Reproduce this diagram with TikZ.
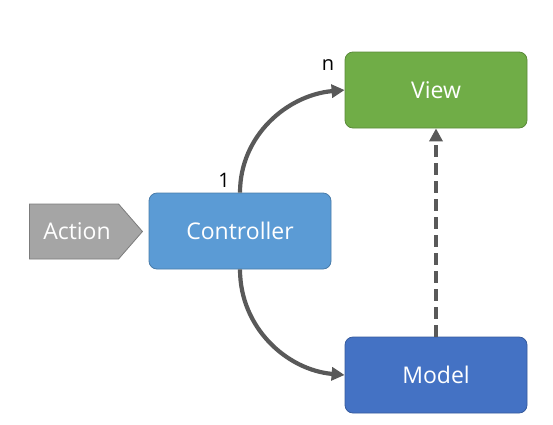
\documentclass[tikz,border=0pt]{standalone}
\usepackage{fontspec}
\setmainfont{Open Sans}
\usetikzlibrary{arrows.meta,shapes.symbols}

\definecolor{ctrlblue}{HTML}{5B9BD5}
\definecolor{viewgreen}{HTML}{70AD47}
\definecolor{modelblue}{HTML}{4472C4}
\definecolor{actgray}{HTML}{A5A5A5}
\definecolor{linkgray}{HTML}{595959}

\tikzset{
  box/.style={rounded corners=8pt,text=white,font=\fontsize{23}{27}\selectfont,
    minimum width=182pt,minimum height=76pt,inner sep=0pt,line width=0.8pt},
  link/.style={linkgray,line width=4.2pt,-{Triangle[length=13pt,width=13pt]}},
  lab/.style={black,font=\fontsize{20}{24}\selectfont}
}

\begin{document}
\begin{tikzpicture}[x=1pt,y=-1pt]
  \useasboundingbox (0,0) rectangle (553,424);
  % boxes
  \node[box,fill=ctrlblue,draw=ctrlblue!80!black] (controller) at (240,231) {Controller};
  \node[box,fill=viewgreen,draw=viewgreen!80!black] (view) at (436,90) {View};
  \node[box,fill=modelblue,draw=modelblue!80!black] (model) at (436,375) {Model};
  % action
  \node[signal,signal to=east,signal pointer angle=98,fill=actgray,draw=actgray!75!black,
    line width=0.8pt,text=white,font=\fontsize{23}{27}\selectfont,
    minimum width=113pt,minimum height=55pt,inner sep=0pt,text depth=0pt] (action) at (74,231.5) {\hspace{6pt}Action};
  % links
  \draw[link] (controller.north) to[out=90,in=185] (view.west);
  \draw[link] (controller.south) to[out=-90,in=175] (model.west);
  \draw[link,dash pattern=on 12pt off 6pt] (model.north) -- (view.south);
  \node[lab] (onelab) at (224,180) {1};
  \node[lab] (nlab) at (328,65) {n};
\end{tikzpicture}
\end{document}
